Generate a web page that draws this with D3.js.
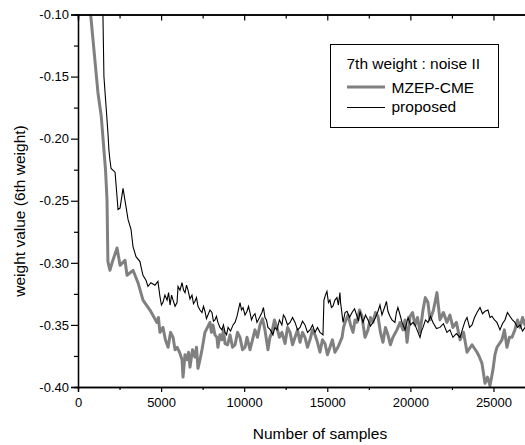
<!DOCTYPE html>
<html>
<head>
<meta charset="utf-8">
<script src="https://cdn.jsdelivr.net/npm/d3@7"></script>
<style>
  html, body { margin: 0; padding: 0; background: #fff; }
  svg { display: block; font-family: "Liberation Sans", Arial, sans-serif; }
</style>
</head>
<body>
<svg id="chart" width="525" height="445"></svg>
<script>
// Weight trajectory of the 6th weight vs. number of samples, two algorithms.
const xTicks = [0, 5000, 10000, 15000, 20000, 25000];
const yTicks = [-0.40, -0.35, -0.30, -0.25, -0.20, -0.15, -0.10];
const seriesNames = ["MZEP-CME", "proposed"];
const legendTitle = "7th weight : noise II";

// MZEP-CME: samples and weight values
const mzepSamples = [600, 760, 1200, 1400, 1560, 1660, 1745, 1800, 1920, 2050, 2350, 2530, 2830, 2950, 3310, 3610, 3910, 4330, 4750, 4840, 4930, 5110, 5260, 5420, 5570, 5720, 5840, 5960, 6110, 6260, 6320, 6440, 6560, 6650, 6740, 6890, 7040, 7130, 7220, 7340, 7460, 7640, 7790, 7940, 8030, 8120, 8240, 8360, 8420, 8540, 8660, 8750, 8850, 9000, 9150, 9300, 9450, 9600, 9750, 9900, 10050, 10170, 10350, 10500, 10650, 10800, 10950, 11100, 11250, 11430, 11550, 11670, 11820, 11970, 12120, 12270, 12460, 12610, 12760, 12910, 13060, 13210, 13360, 13510, 13660, 13810, 13960, 14110, 14260, 14410, 14560, 14710, 14860, 15010, 15160, 15310, 15460, 15640, 15890, 15980, 16070, 16250, 16400, 16550, 16670, 16790, 16940, 17090, 17180, 17270, 17450, 17600, 17750, 17900, 18050, 18200, 18350, 18500, 18650, 18800, 18950, 19190, 19380, 19560, 19680, 19800, 19980, 20130, 20280, 20430, 20580, 20760, 20900, 21060, 21180, 21390, 21600, 21680, 21780, 21990, 22200, 22380, 22560, 22770, 22990, 23200, 23410, 23710, 24010, 24160, 24310, 24490, 24640, 24790, 24970, 25090, 25210, 25510, 25660, 25810, 25960, 26110, 26290, 26450, 26600, 26750, 26900, 27100];
const mzepValues = [-0.088, -0.100, -0.163, -0.182, -0.209, -0.226, -0.249, -0.299, -0.306, -0.300, -0.288, -0.302, -0.298, -0.310, -0.306, -0.316, -0.330, -0.338, -0.348, -0.344, -0.356, -0.352, -0.362, -0.368, -0.356, -0.360, -0.370, -0.368, -0.372, -0.378, -0.392, -0.374, -0.378, -0.372, -0.384, -0.370, -0.376, -0.368, -0.385, -0.378, -0.370, -0.356, -0.352, -0.348, -0.356, -0.350, -0.358, -0.360, -0.368, -0.358, -0.362, -0.354, -0.365, -0.366, -0.358, -0.368, -0.366, -0.356, -0.360, -0.370, -0.368, -0.360, -0.370, -0.362, -0.354, -0.360, -0.350, -0.345, -0.354, -0.370, -0.360, -0.356, -0.346, -0.352, -0.360, -0.356, -0.365, -0.352, -0.356, -0.366, -0.360, -0.354, -0.364, -0.356, -0.360, -0.368, -0.362, -0.354, -0.358, -0.364, -0.372, -0.362, -0.365, -0.374, -0.368, -0.362, -0.372, -0.368, -0.360, -0.352, -0.348, -0.342, -0.350, -0.356, -0.346, -0.348, -0.338, -0.343, -0.352, -0.360, -0.354, -0.344, -0.348, -0.340, -0.343, -0.356, -0.364, -0.352, -0.358, -0.366, -0.360, -0.354, -0.348, -0.354, -0.346, -0.364, -0.343, -0.340, -0.350, -0.344, -0.356, -0.338, -0.328, -0.332, -0.346, -0.338, -0.324, -0.334, -0.346, -0.340, -0.348, -0.342, -0.352, -0.348, -0.362, -0.356, -0.372, -0.366, -0.372, -0.376, -0.381, -0.397, -0.392, -0.399, -0.386, -0.374, -0.368, -0.362, -0.354, -0.368, -0.360, -0.360, -0.354, -0.346, -0.352, -0.344, -0.350, -0.350];

// proposed: samples and weight values
const propSamples = [1500, 1500, 1560, 1800, 1860, 1920, 1990, 2230, 2410, 2530, 2710, 2890, 3010, 3190, 3310, 3490, 3730, 3790, 3910, 4090, 4210, 4390, 4630, 4810, 4930, 5020, 5110, 5230, 5360, 5450, 5540, 5630, 5720, 5840, 5960, 6020, 6140, 6260, 6350, 6440, 6530, 6620, 6740, 6860, 6950, 7040, 7130, 7220, 7340, 7460, 7550, 7640, 7730, 7820, 7940, 8060, 8150, 8240, 8330, 8420, 8540, 8660, 8750, 8850, 8940, 9030, 9180, 9330, 9450, 9570, 9750, 9840, 9930, 10050, 10170, 10260, 10350, 10440, 10530, 10650, 10770, 10920, 11070, 11160, 11250, 11340, 11430, 11580, 11730, 11850, 11970, 12120, 12270, 12360, 12460, 12610, 12760, 12910, 13060, 13210, 13360, 13510, 13660, 13810, 13960, 14110, 14260, 14410, 14560, 14740, 14800, 14890, 14980, 15070, 15160, 15250, 15340, 15460, 15580, 15670, 15760, 15800, 15950, 16070, 16190, 16340, 16490, 16640, 16790, 16880, 16970, 17060, 17150, 17300, 17450, 17600, 17750, 17900, 18050, 18170, 18290, 18470, 18560, 18650, 18770, 18890, 19070, 19160, 19250, 19380, 19500, 19680, 19770, 19860, 20010, 20160, 20280, 20400, 20580, 20670, 20760, 20910, 21060, 21210, 21360, 21570, 21780, 21990, 22200, 22380, 22560, 22770, 22990, 23170, 23290, 23410, 23560, 23710, 23860, 24010, 24190, 24340, 24490, 24670, 24790, 24910, 25060, 25210, 25390, 25540, 25690, 25840, 25990, 26140, 26290, 26450, 26600, 26750, 26900, 27100];
const propValues = [-0.085, -0.100, -0.150, -0.195, -0.209, -0.217, -0.224, -0.227, -0.257, -0.256, -0.240, -0.255, -0.265, -0.273, -0.287, -0.295, -0.299, -0.303, -0.310, -0.314, -0.319, -0.316, -0.318, -0.315, -0.327, -0.334, -0.332, -0.326, -0.330, -0.324, -0.334, -0.326, -0.330, -0.335, -0.332, -0.319, -0.322, -0.316, -0.322, -0.324, -0.318, -0.322, -0.329, -0.326, -0.333, -0.331, -0.328, -0.335, -0.338, -0.340, -0.335, -0.339, -0.345, -0.342, -0.338, -0.340, -0.347, -0.346, -0.343, -0.348, -0.352, -0.354, -0.350, -0.356, -0.358, -0.352, -0.355, -0.350, -0.348, -0.343, -0.332, -0.338, -0.336, -0.342, -0.339, -0.335, -0.340, -0.346, -0.343, -0.341, -0.348, -0.344, -0.340, -0.336, -0.344, -0.346, -0.352, -0.354, -0.358, -0.352, -0.354, -0.346, -0.350, -0.342, -0.344, -0.350, -0.348, -0.344, -0.348, -0.354, -0.352, -0.347, -0.350, -0.356, -0.354, -0.350, -0.356, -0.352, -0.356, -0.358, -0.330, -0.326, -0.323, -0.332, -0.330, -0.336, -0.335, -0.330, -0.328, -0.334, -0.324, -0.332, -0.348, -0.340, -0.339, -0.344, -0.340, -0.337, -0.343, -0.347, -0.339, -0.344, -0.348, -0.342, -0.346, -0.351, -0.348, -0.344, -0.339, -0.334, -0.342, -0.335, -0.331, -0.339, -0.343, -0.346, -0.348, -0.340, -0.336, -0.342, -0.348, -0.354, -0.349, -0.344, -0.350, -0.348, -0.350, -0.354, -0.360, -0.355, -0.352, -0.346, -0.348, -0.343, -0.348, -0.353, -0.352, -0.349, -0.356, -0.354, -0.360, -0.357, -0.360, -0.352, -0.347, -0.344, -0.352, -0.350, -0.344, -0.340, -0.336, -0.341, -0.339, -0.338, -0.344, -0.343, -0.346, -0.348, -0.354, -0.349, -0.346, -0.340, -0.343, -0.346, -0.348, -0.352, -0.350, -0.355, -0.352, -0.353];

const svg = d3.select("#chart");
const plotLeft = 78, plotTop = 14.5, plotBottom = 387, plotRight = 526.7;

const x = d3.scaleLinear().domain([0, 27000]).range([plotLeft, plotRight]);
const y = d3.scaleLinear().domain([-0.40, -0.10]).range([plotBottom, plotTop]);

svg.append("defs").append("clipPath").attr("id", "plot-clip")
  .append("rect").attr("x", plotLeft).attr("y", plotTop)
  .attr("width", plotRight - plotLeft).attr("height", plotBottom - plotTop);

const line = d3.line().x(d => x(d[0])).y(d => y(d[1]));
const mzep = d3.zip(mzepSamples, mzepValues);
const prop = d3.zip(propSamples, propValues);

const plot = svg.append("g").attr("clip-path", "url(#plot-clip)");
plot.append("path").datum(mzep).attr("d", line)
  .attr("fill", "none").attr("stroke", "#808080").attr("stroke-width", 3)
  .attr("stroke-linejoin", "round");
plot.append("path").datum(prop).attr("d", line)
  .attr("fill", "none").attr("stroke", "#000").attr("stroke-width", 1.1);

// Axes: labelled major ticks plus unlabelled minor ticks
const minorX = d3.range(2500, 27000, 5000);
const minorY = [-0.375, -0.325, -0.275, -0.225, -0.175, -0.125];
const noLabels = g => g.selectAll("text").remove();

const gx = svg.append("g").attr("transform", `translate(0,${plotBottom})`)
  .call(d3.axisBottom(x).tickValues(xTicks).tickFormat(d => String(d)).tickSize(5).tickPadding(6));
svg.append("g").attr("transform", `translate(0,${plotBottom})`)
  .call(d3.axisBottom(x).tickValues(minorX).tickSize(3)).call(noLabels);

const gy = svg.append("g").attr("transform", `translate(${plotLeft},0)`)
  .call(d3.axisLeft(y).tickValues(yTicks).tickFormat(d => d.toFixed(2)).tickSize(7).tickPadding(2));
svg.append("g").attr("transform", `translate(${plotLeft},0)`)
  .call(d3.axisLeft(y).tickValues(minorY).tickSize(4)).call(noLabels);

svg.append("g").attr("transform", `translate(0,${plotTop})`)
  .call(d3.axisTop(x).tickValues(xTicks).tickSize(-6)).call(noLabels);
svg.append("g").attr("transform", `translate(0,${plotTop})`)
  .call(d3.axisTop(x).tickValues(minorX).tickSize(-4)).call(noLabels);

svg.selectAll(".domain").attr("stroke", "#000").attr("stroke-width", 1.3);
svg.selectAll(".tick line").attr("stroke", "#000").attr("stroke-width", 1.2);
svg.selectAll(".tick text").attr("font-size", 13).attr("fill", "#000")
  .attr("font-family", "'Liberation Sans', Arial, sans-serif");

svg.append("text").attr("x", 320).attr("y", 439).attr("text-anchor", "middle")
  .attr("font-size", 15.5).text("Number of samples");
svg.append("text").attr("transform", "translate(25,211) rotate(-90)")
  .attr("text-anchor", "middle").attr("font-size", 15.5).text("weight value (6th weight)");

// Legend
const lg = svg.append("g");
lg.append("rect").attr("x", 330.5).attr("y", 44.5).attr("width", 168).attr("height", 83)
  .attr("fill", "#fff").attr("stroke", "#000").attr("stroke-width", 1);
lg.append("text").attr("x", 346.5).attr("y", 69).attr("font-size", 15.5).text(legendTitle);
lg.append("line").attr("x1", 347).attr("x2", 385).attr("y1", 87).attr("y2", 87)
  .attr("stroke", "#808080").attr("stroke-width", 3);
lg.append("text").attr("x", 391.5).attr("y", 92.5).attr("font-size", 15.5).text(seriesNames[0]);
lg.append("line").attr("x1", 347).attr("x2", 385).attr("y1", 107.5).attr("y2", 107.5)
  .attr("stroke", "#000").attr("stroke-width", 1);
lg.append("text").attr("x", 391.5).attr("y", 112).attr("font-size", 15.5).text(seriesNames[1]);
</script>
</body>
</html>
